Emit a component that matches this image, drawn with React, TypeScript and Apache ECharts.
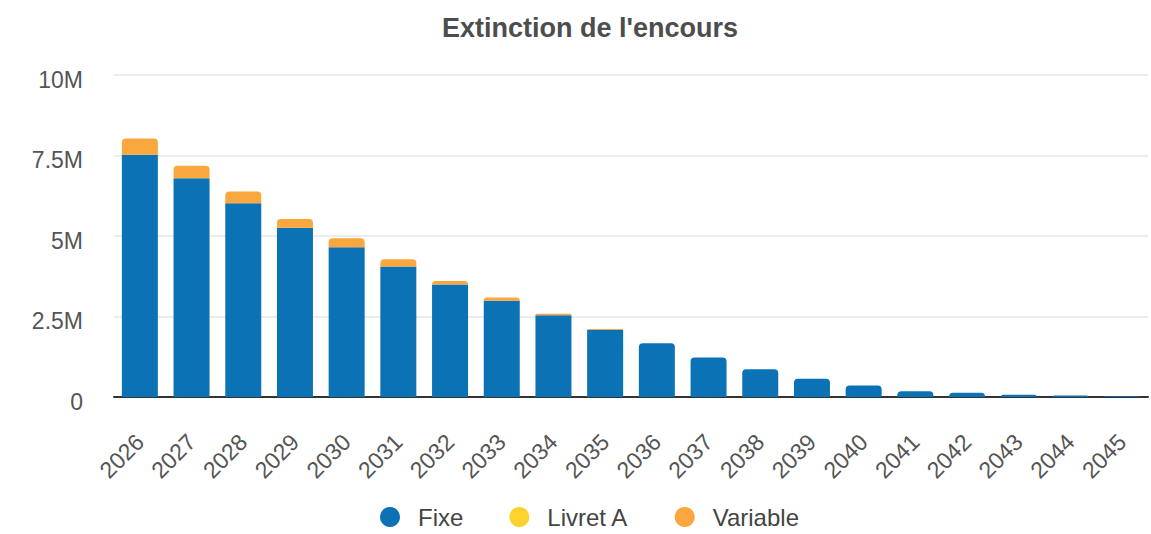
import React, { useEffect, useRef } from "react";
import * as echarts from "echarts";

const categories = [
  "2026", "2027", "2028", "2029", "2030", "2031", "2032", "2033", "2034", "2035",
  "2036", "2037", "2038", "2039", "2040", "2041", "2042", "2043", "2044", "2045",
];

// values in euros
const fixe = [
  7520000, 6790000, 6020000, 5260000, 4650000, 4050000, 3490000, 2990000, 2540000, 2080000,
  1670000, 1230000, 860000, 570000, 360000, 180000, 130000, 70000, 50000, 20000,
];
const livretA = [
  0, 0, 0, 0, 0, 0, 0, 0, 0, 0,
  0, 0, 0, 0, 0, 0, 0, 0, 0, 0,
];
const variable = [
  510000, 390000, 360000, 270000, 280000, 230000, 110000, 100000, 45000, 30000,
  0, 0, 0, 0, 0, 0, 0, 0, 0, 0,
];

const yTicks = [0, 2500000, 5000000, 7500000, 10000000];
const yTickLabels = ["0", "2.5M", "5M", "7.5M", "10M"];

const COLORS = { fixe: "#0b72b5", livret: "#fcd22f", variable: "#f9a73e" };
const FONT = "Liberation Sans, Arial, sans-serif";

export default function App() {
  const ref = useRef<HTMLDivElement>(null);

  useEffect(() => {
    document.body.style.margin = "0";
    if (!ref.current) return;
    const chart = echarts.init(ref.current, undefined, { renderer: "svg" });
    const R = 4;
    const fixeData = fixe.map((v, i) => ({
      value: v,
      itemStyle: {
        borderRadius: variable[i] + livretA[i] > 0 ? 0 : [R, R, 0, 0],
      },
    }));
    const livretData = livretA.map((v, i) => ({
      value: v,
      itemStyle: { borderRadius: variable[i] > 0 ? 0 : [R, R, 0, 0] },
    }));
    chart.setOption({
      animation: false,
      textStyle: { fontFamily: FONT },
      title: {
        text: "Extinction de l'encours",
        left: 437,
        top: 9,
        textStyle: { fontSize: 27, fontWeight: "bold", color: "#4d4d4d", fontFamily: FONT },
      },
      legend: {
        data: ["Fixe", "Livret A", "Variable"],
        top: 500,
        left: 375,
        icon: "circle",
        itemWidth: 46,
        itemHeight: 20,
        itemGap: 46,
        textStyle: { fontSize: 24, color: "#444", fontFamily: FONT },
      },
      grid: { left: 114, right: 3, top: 75, bottom: 137, containLabel: false },
      xAxis: {
        type: "category",
        data: categories,
        axisLine: { show: true, lineStyle: { color: "#333", width: 2 } },
        axisTick: { show: false },
        axisLabel: {
          rotate: 45,
          margin: 41,
          fontSize: 23,
          color: "#555",
          fontFamily: FONT,
          interval: 0,
        },
      },
      yAxis: {
        type: "value",
        min: 0,
        max: 10000000,
        interval: 2500000,
        axisLine: { show: false },
        axisTick: { show: false },
        splitLine: { lineStyle: { color: "#e6e6e6", width: 1.5 } },
        axisLabel: {
          margin: 31,
          fontSize: 23,
          color: "#555",
          fontFamily: FONT,
          verticalAlign: "top",
          lineHeight: 9,
          formatter: (v: number) => {
            const idx = yTicks.indexOf(v);
            return idx >= 0 ? yTickLabels[idx] : "";
          },
        },
      },
      series: [
        {
          name: "Fixe",
          type: "bar",
          stack: "total",
          barWidth: 36,
          data: fixeData,
          itemStyle: { color: COLORS.fixe },
        },
        {
          name: "Livret A",
          type: "bar",
          stack: "total",
          barWidth: 36,
          data: livretData,
          itemStyle: { color: COLORS.livret },
        },
        {
          name: "Variable",
          type: "bar",
          stack: "total",
          barWidth: 36,
          data: variable,
          itemStyle: { color: COLORS.variable, borderRadius: [R, R, 0, 0] },
        },
      ],
    });
    return () => chart.dispose();
  }, []);

  return <div ref={ref} style={{ width: 1151, height: 534 }} />;
}
